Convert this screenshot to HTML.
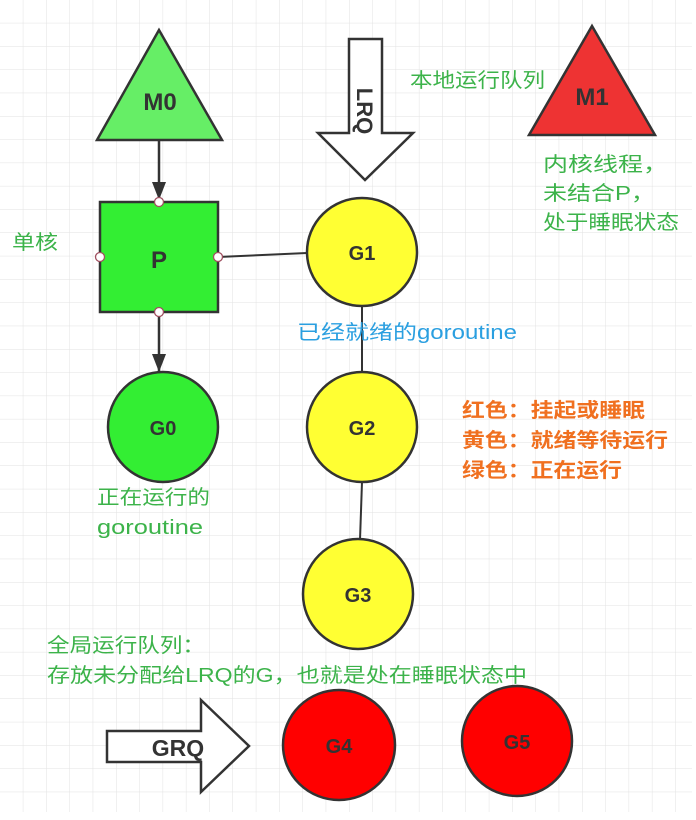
<!DOCTYPE html>
<html><head><meta charset="utf-8"><style>
html,body{margin:0;padding:0;background:#fff;}
svg{display:block;}
.lab{font-family:"Liberation Sans","DejaVu Sans",sans-serif;font-weight:bold;fill:#333;}
.cn{font-family:"Liberation Sans","Noto Sans CJK SC",sans-serif;}
</style></head><body>
<svg width="696" height="820" viewBox="0 0 696 820" xmlns="http://www.w3.org/2000/svg">
<defs>
<pattern id="grid" x="0" y="0" width="23.3" height="23.3" patternUnits="userSpaceOnUse">
<path d="M23.3 0V23.3M0 23.3H23.3" stroke="#e2e2e2" stroke-width="1" fill="none"/>
</pattern>
</defs>
<rect x="0" y="0" width="692" height="812" fill="url(#grid)"/>

<!-- M0 -->
<polygon points="159,30 97,140 222,140" fill="#66ee66" stroke="#333" stroke-width="2.5"/>
<text class="lab" x="160" y="110" font-size="24" text-anchor="middle">M0</text>
<line x1="159" y1="140" x2="159" y2="200" stroke="#333" stroke-width="2.5"/>
<polygon points="152,182 166,182 159,200" fill="#333"/>

<!-- P -->
<rect x="100" y="202" width="118" height="110" fill="#33ee33" stroke="#333" stroke-width="2.5"/>
<text class="lab" x="159" y="268" font-size="24" text-anchor="middle">P</text>
<line x1="218" y1="257" x2="307" y2="253" stroke="#333" stroke-width="2"/>
<line x1="159" y1="312" x2="159" y2="372" stroke="#333" stroke-width="2.5"/>
<polygon points="152,354 166,354 159,372" fill="#333"/>
<g fill="#fff" stroke="#a05060" stroke-width="1.3">
<circle cx="159" cy="202" r="4.5"/><circle cx="100" cy="257" r="4.5"/>
<circle cx="218" cy="257" r="4.5"/><circle cx="159" cy="312" r="4.5"/>
</g>

<!-- LRQ arrow -->
<polygon points="349,39 382,39 382,133 413,133 365,180 318,133 349,133" fill="#fff" stroke="#333" stroke-width="2.5"/>
<text class="lab" x="0" y="0" font-size="22" transform="translate(357,111) rotate(90)" text-anchor="middle">LRQ</text>

<!-- M1 -->
<polygon points="592,26 529,135 655,135" fill="#ee3333" stroke="#333" stroke-width="2.5"/>
<text class="lab" x="592" y="105" font-size="24" text-anchor="middle">M1</text>

<!-- G connectors -->
<line x1="362" y1="305" x2="362" y2="372" stroke="#333" stroke-width="2"/>
<line x1="362" y1="482" x2="360" y2="540" stroke="#333" stroke-width="2"/>

<!-- circles -->
<ellipse cx="362" cy="252" rx="55" ry="54" fill="#ffff33" stroke="#333" stroke-width="2.5"/>
<text class="lab" x="362" y="260" font-size="20" text-anchor="middle">G1</text>
<ellipse cx="362" cy="427" rx="55" ry="55" fill="#ffff33" stroke="#333" stroke-width="2.5"/>
<text class="lab" x="362" y="435" font-size="20" text-anchor="middle">G2</text>
<ellipse cx="358" cy="594" rx="55" ry="55" fill="#ffff33" stroke="#333" stroke-width="2.5"/>
<text class="lab" x="358" y="602" font-size="20" text-anchor="middle">G3</text>
<ellipse cx="163" cy="427" rx="55" ry="55" fill="#33ee33" stroke="#333" stroke-width="2.5"/>
<text class="lab" x="163" y="435" font-size="20" text-anchor="middle">G0</text>
<ellipse cx="339" cy="745" rx="56" ry="55" fill="#ff0000" stroke="#333" stroke-width="2.5"/>
<text class="lab" x="339" y="753" font-size="20" text-anchor="middle">G4</text>
<ellipse cx="517" cy="741" rx="55" ry="55" fill="#ff0000" stroke="#333" stroke-width="2.5"/>
<text class="lab" x="517" y="749" font-size="20" text-anchor="middle">G5</text>

<!-- GRQ arrow -->
<polygon points="107,731 201,731 201,700 249,746 201,792 201,762 107,762" fill="#fff" stroke="#333" stroke-width="2.5"/>
<text class="lab" x="178" y="756" font-size="23" text-anchor="middle">GRQ</text>

<!-- texts -->
<g class="cn" font-size="20" fill="#3cb34a">
<text x="410" y="87" textLength="135" lengthAdjust="spacingAndGlyphs">本地运行队列</text>
<text x="543" y="171" textLength="125" lengthAdjust="spacingAndGlyphs">内核线程，</text>
<text x="543" y="200" textLength="112" lengthAdjust="spacingAndGlyphs">未结合P，</text>
<text x="543" y="229" textLength="136" lengthAdjust="spacingAndGlyphs">处于睡眠状态</text>
<text x="12" y="249" textLength="46" lengthAdjust="spacingAndGlyphs">单核</text>
<text x="97" y="504" textLength="113" lengthAdjust="spacingAndGlyphs">正在运行的</text>
<text x="97" y="534" textLength="106" lengthAdjust="spacingAndGlyphs">goroutine</text>
<text x="47" y="652" textLength="158" lengthAdjust="spacingAndGlyphs">全局运行队列：</text>
<text x="47" y="682" textLength="480" lengthAdjust="spacingAndGlyphs">存放未分配给LRQ的G，也就是处在睡眠状态中</text>
</g>
<text class="cn" x="297" y="339" font-size="20" fill="#2a9fe0" textLength="220" lengthAdjust="spacingAndGlyphs">已经就绪的goroutine</text>
<g class="cn" font-size="20" font-weight="bold" fill="#f07020">
<text x="462" y="417" textLength="183" lengthAdjust="spacingAndGlyphs">红色：挂起或睡眠</text>
<text x="462" y="447" textLength="206" lengthAdjust="spacingAndGlyphs">黄色：就绪等待运行</text>
<text x="462" y="477" textLength="160" lengthAdjust="spacingAndGlyphs">绿色：正在运行</text>
</g>
</svg>
</body></html>
